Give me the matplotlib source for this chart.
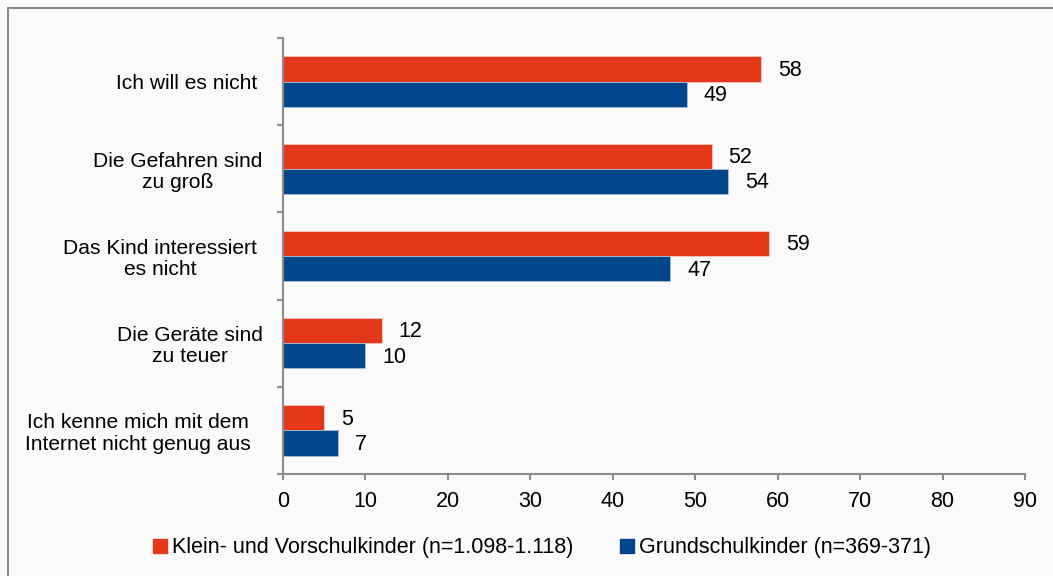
import numpy as np
import matplotlib
matplotlib.use("Agg")
import matplotlib.pyplot as plt
from matplotlib.lines import Line2D
from matplotlib.patches import Rectangle

plt.rcParams['font.family'] = ['Liberation Sans', 'DejaVu Sans']

categories = [
    "Ich will es nicht ",
    "Die Gefahren sind\nzu groß",
    "Das Kind interessiert \nes nicht ",
    "Die Geräte sind\nzu teuer",
    "Ich kenne mich mit dem  \nInternet nicht genug aus  ",
]
klein_values = [58, 52, 59, 12, 5]
grund_values = [49, 54, 47, 10, 6.7]
series_names = [
    "Klein- und Vorschulkinder (n=1.098-1.118)",
    "Grundschulkinder (n=369-371)",
]
x_ticks = [0, 10, 20, 30, 40, 50, 60, 70, 80, 90]

RED = "#E5371A"
BLUE = "#00468B"
GREY = "#8C8C8C"
BG = "#FAFAFA"
FS = 15.5

W, H = 1053, 576
fig = plt.figure(figsize=(W / 100, H / 100), dpi=100, facecolor=BG)

# outer frame
fig.patches.append(Rectangle((8 / W, -0.1), 1.2, (576 - 8) / H + 0.1,
                             transform=fig.transFigure, fill=False,
                             edgecolor=GREY, linewidth=1.5))

ax = fig.add_axes([283 / W, (576 - 474) / H, (1025 - 283) / W, (474 - 38) / H])
ax.set_facecolor(BG)

y = np.arange(len(categories))
h = 0.29
bars_r = ax.barh(y - h / 2, klein_values, height=h, color=RED, edgecolor="#f3c8bf", linewidth=0.6)
bars_b = ax.barh(y + h / 2, grund_values, height=h, color=BLUE, edgecolor="#a9bfd8", linewidth=0.6)

for bars, vals in [(bars_r, klein_values), (bars_b, grund_values)]:
    for b, v in zip(bars, vals):
        ax.annotate(f"{v:.0f}", (v, b.get_y() + b.get_height() / 2),
                    xytext=(12, -1), textcoords="offset points",
                    ha="left", va="center", fontsize=FS, color="black")

ax.set_xlim(0, 90)
ax.set_ylim(len(categories) - 0.5, -0.5)
ax.set_xticks(x_ticks)
ax.set_yticks(y)
ax.set_yticklabels(categories, multialignment="center", linespacing=1.15)
ax.set_yticks(np.arange(len(categories) + 1) - 0.5, minor=True)
ax.tick_params(axis="y", which="major", length=0, pad=14.5, labelsize=15.1)
ax.tick_params(axis="y", which="minor", length=4.5, width=1.5, color=GREY)
ax.tick_params(axis="x", length=4.5, width=1.5, color=GREY, pad=8, labelsize=FS)

for s in ["top", "right"]:
    ax.spines[s].set_visible(False)
for s in ["left", "bottom"]:
    ax.spines[s].set_color(GREY)
    ax.spines[s].set_linewidth(1.5)

handles = [
    Line2D([], [], marker="s", linestyle="none", markersize=10, color=RED),
    Line2D([], [], marker="s", linestyle="none", markersize=10, color=BLUE),
]
fig.legend(handles, series_names, loc="center", bbox_to_anchor=(542 / W, 1 - 548 / H),
           ncol=2, frameon=False, fontsize=FS, handlelength=0.6, handletextpad=0.25,
           columnspacing=2.2)

fig.savefig("out.png", dpi=100, facecolor=BG)
